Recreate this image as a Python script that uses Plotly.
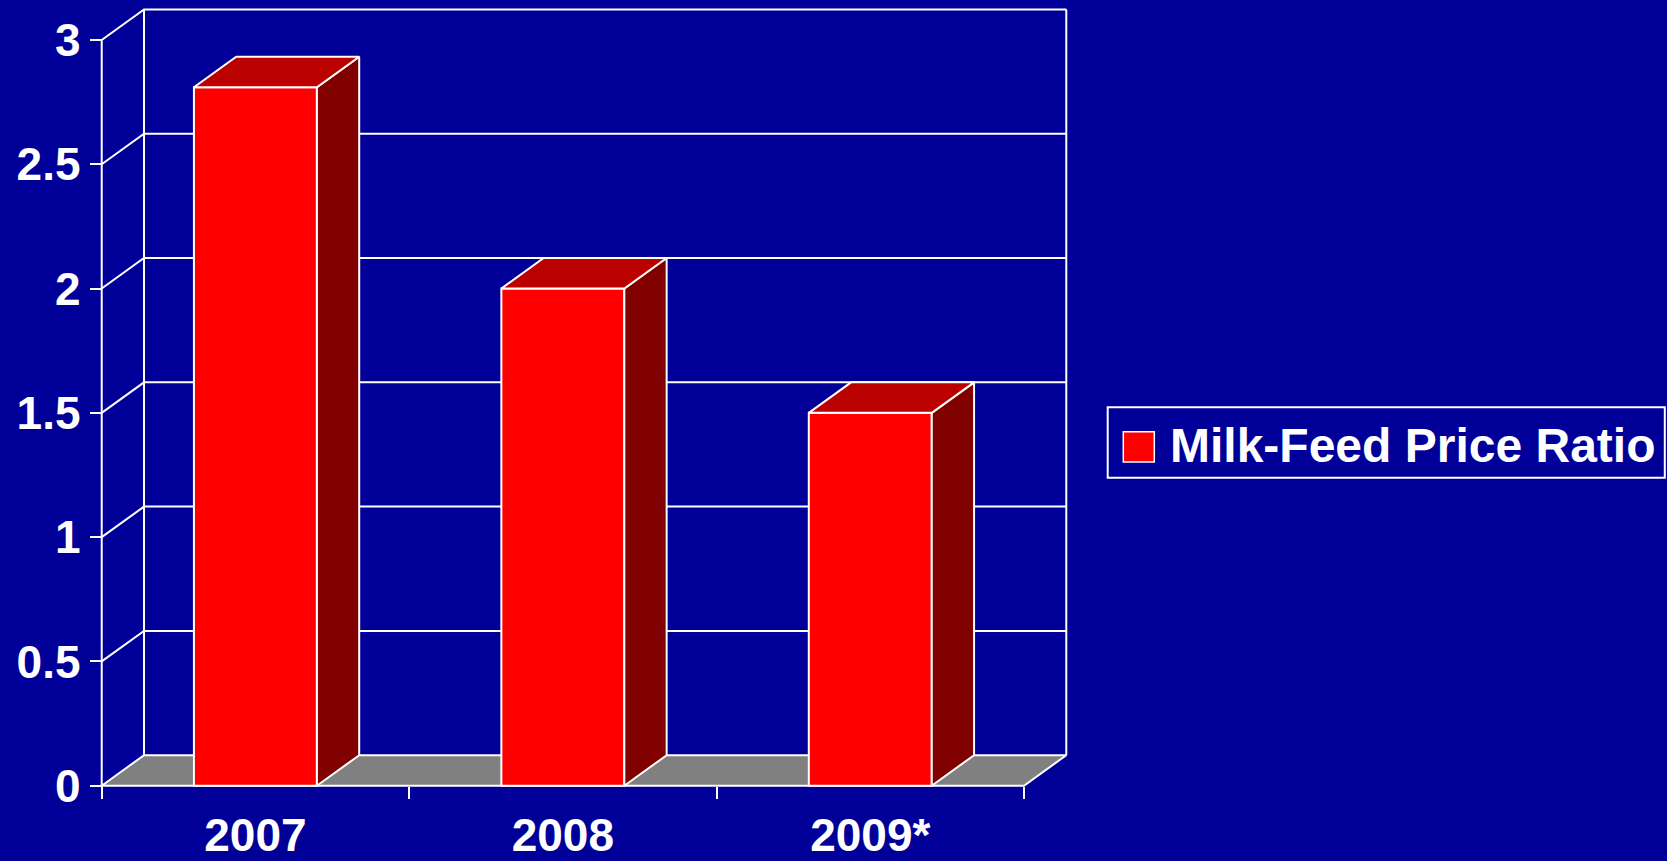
import plotly.graph_objects as go

# ---- data ----
years = ["2007", "2008", "2009*"]
ratios = [2.81, 2.0, 1.5]
y_ticks = [0, 0.5, 1, 1.5, 2, 2.5, 3]
y_tick_text = ["0", "0.5", "1", "1.5", "2", "2.5", "3"]
series_name = "Milk-Feed Price Ratio"

# ---- styling ----
BG = "#000099"
FRONT = "#FF0000"
TOP = "#BB0000"
SIDE = "#800000"
FLOOR = "#808080"
LINE = "white"
FONT = "Liberation Sans, Arial, sans-serif"

BAR_W = 0.4          # bar width in category units
DEPTH_X = 0.1376     # oblique depth offset (x units)
DEPTH_Y = 0.1227     # oblique depth offset (y units)
N = len(years)
Y_TOP = y_ticks[-1]

W, H = 1667, 861
ML, MR, MT, MB = 99, 598, 7, 72
PW, PH = W - ML - MR, H - MT - MB

X_RANGE = [-0.0088, 3.1464]
Y_RANGE = [-0.0133, 3.1327]


def px_x(px):
    return (px - ML) / PW


def px_y(py):
    return (H - MB - py) / PH


centers = [i + 0.5 for i in range(N)]

fig = go.Figure()

# floor of the 3D box
fig.add_trace(go.Scatter(
    x=[0, N, N + DEPTH_X, DEPTH_X, 0],
    y=[0, 0, DEPTH_Y, DEPTH_Y, 0],
    mode="lines", fill="toself", fillcolor=FLOOR,
    line=dict(color=LINE, width=2), hoverinfo="skip", showlegend=False,
))

# back-wall gridlines with their diagonal connectors to the front axis
gx, gy = [], []
for v in y_ticks[1:]:
    gx += [0, DEPTH_X, N + DEPTH_X, None]
    gy += [v, v + DEPTH_Y, v + DEPTH_Y, None]
# back-wall verticals and the front value axis
gx += [DEPTH_X, DEPTH_X, None, N + DEPTH_X, N + DEPTH_X, None, 0, 0]
gy += [DEPTH_Y, Y_TOP + DEPTH_Y, None, DEPTH_Y, Y_TOP + DEPTH_Y, None, 0, Y_TOP]
fig.add_trace(go.Scatter(
    x=gx, y=gy, mode="lines", line=dict(color=LINE, width=2),
    hoverinfo="skip", showlegend=False,
))

# bars: front faces
fig.add_trace(go.Bar(
    x=centers, y=ratios, width=BAR_W, name=series_name,
    marker=dict(color=FRONT, line=dict(color=LINE, width=2)),
    xaxis="x2", yaxis="y2", showlegend=False,
))

# bars: side and top faces
for c, v in zip(centers, ratios):
    l, r = c - BAR_W / 2, c + BAR_W / 2
    fig.add_trace(go.Scatter(
        x=[r, r + DEPTH_X, r + DEPTH_X, r, r],
        y=[0, DEPTH_Y, v + DEPTH_Y, v, 0],
        mode="lines", fill="toself", fillcolor=SIDE,
        line=dict(color=LINE, width=2), xaxis="x2", yaxis="y2",
        hoverinfo="skip", showlegend=False,
    ))
    fig.add_trace(go.Scatter(
        x=[l, r, r + DEPTH_X, l + DEPTH_X, l],
        y=[v, v, v + DEPTH_Y, v + DEPTH_Y, v],
        mode="lines", fill="toself", fillcolor=TOP,
        line=dict(color=LINE, width=2), xaxis="x2", yaxis="y2",
        hoverinfo="skip", showlegend=False,
    ))

tick_font = dict(family=FONT, size=46, color="white", weight="bold")
x_pos = px_y(785.7)
y_pos = px_x(101.7)

fig.update_layout(
    width=W, height=H,
    paper_bgcolor=BG, plot_bgcolor=BG,
    margin=dict(l=ML, r=MR, t=MT, b=MB, pad=0, autoexpand=False),
    showlegend=False,
    xaxis=dict(
        range=X_RANGE, anchor="free", position=x_pos,
        tickmode="array", tickvals=centers, ticktext=years,
        ticks="", tickfont=tick_font, ticklabelstandoff=18,
        showgrid=False, zeroline=False, showline=False, automargin=False,
    ),
    xaxis2=dict(
        range=X_RANGE, overlaying="x", anchor="free", position=x_pos,
        tickmode="array", tickvals=list(range(N + 1)),
        ticks="outside", ticklen=12, tickwidth=2, tickcolor=LINE,
        showticklabels=False, showgrid=False, zeroline=False,
        showline=False, automargin=False,
    ),
    yaxis=dict(
        range=Y_RANGE, anchor="free", position=y_pos,
        tickmode="array", tickvals=y_ticks, ticktext=y_tick_text,
        ticks="outside", ticklen=12, tickwidth=2, tickcolor=LINE,
        tickfont=tick_font, ticklabelstandoff=0,
        showgrid=False, zeroline=False, showline=False, automargin=False,
    ),
    yaxis2=dict(
        range=Y_RANGE, overlaying="y", visible=False,
    ),
    shapes=[
        # legend frame
        dict(type="rect", xref="paper", yref="paper",
             x0=px_x(1107.7), x1=px_x(1664.8), y0=px_y(477.7), y1=px_y(407.3),
             line=dict(color=LINE, width=2), fillcolor="rgba(0,0,0,0)"),
        # legend swatch
        dict(type="rect", xref="paper", yref="paper",
             x0=px_x(1123.3), x1=px_x(1154.3), y0=px_y(462), y1=px_y(431.7),
             line=dict(color=LINE, width=1.5), fillcolor=FRONT),
    ],
    annotations=[
        dict(text=series_name, xref="paper", yref="paper",
             x=px_x(1167.5), y=px_y(446), xanchor="left", yanchor="middle",
             showarrow=False,
             font=dict(family=FONT, size=48, color="white", weight="bold")),
    ],
)

fig.write_html("out.html")
